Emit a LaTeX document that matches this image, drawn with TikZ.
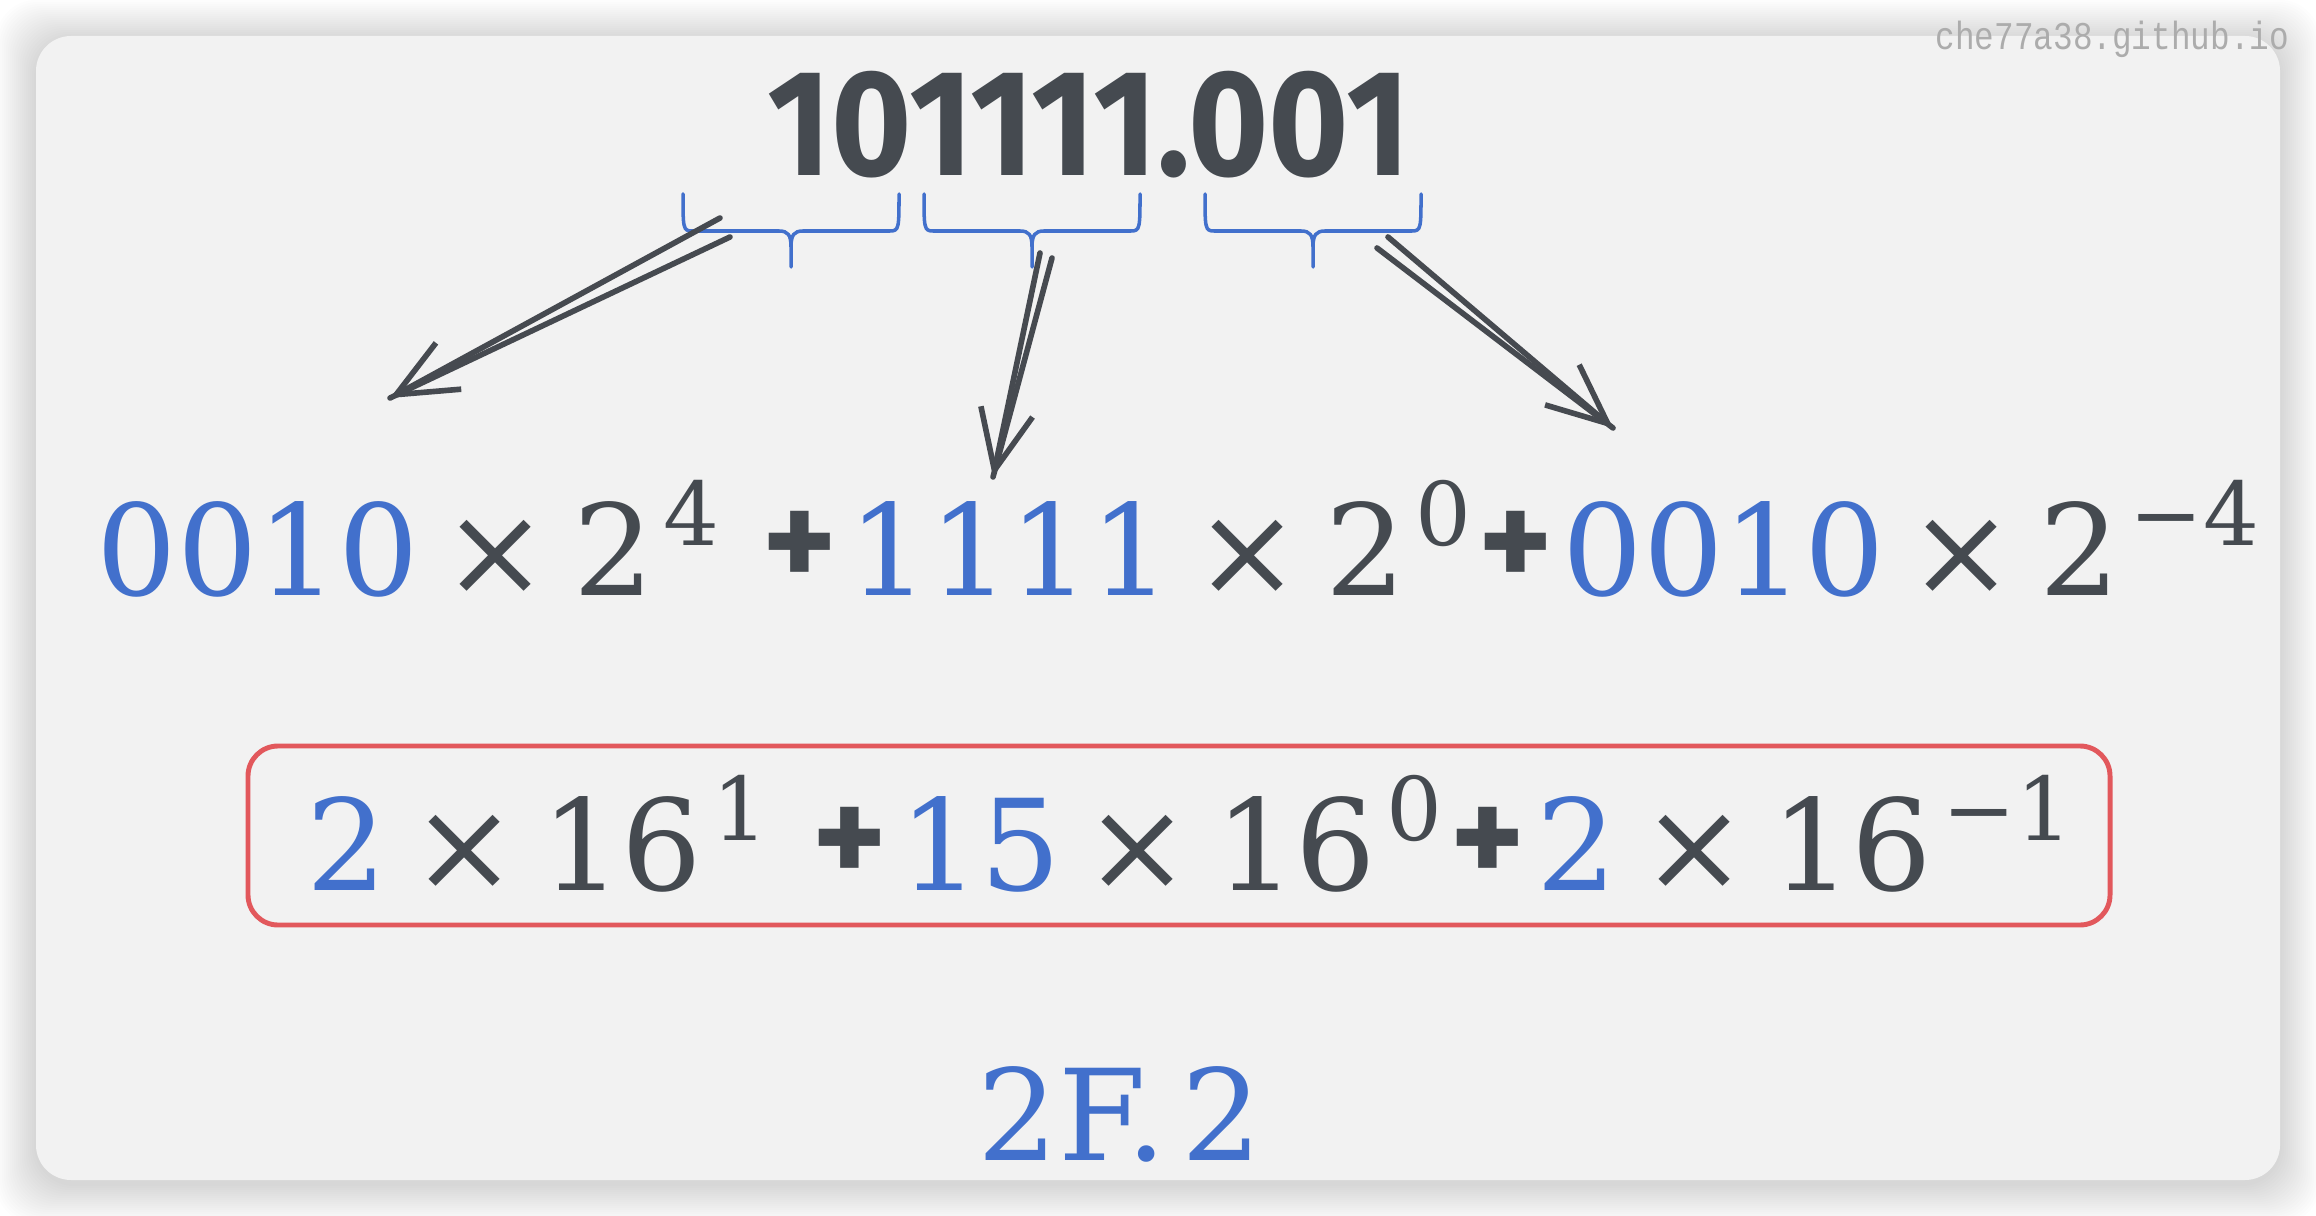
\documentclass[tikz,border=0pt]{standalone}
\usepackage{fontspec}
\usepackage{graphicx}
\usetikzlibrary{arrows.meta, calc}
\newfontfamily\titlefont{Fira Sans}
\newfontfamily\markfont{Liberation Mono}
\newfontfamily\numfont{DejaVu Serif}
\definecolor{cardgray}{RGB}{242, 242, 242}
\definecolor{inkdark}{RGB}{69, 74, 80}
\definecolor{numblue}{RGB}{66, 112, 204}
\definecolor{framered}{RGB}{226, 88, 92}
\definecolor{markgray}{RGB}{172, 172, 172}
\definecolor{penblack}{RGB}{70, 74, 80}
\newcommand{\tms}{\hspace{0.19em}\texttimes\hspace{0.19em}}
\newcommand{\pw}[1]{\hspace{0.08em}\raisebox{14pt}{\fontsize{25}{27}\selectfont #1}}

\begin{document}
\begin{tikzpicture}[
    x=0.01cm, y=-0.01cm,
    title/.style={font=\titlefont\bfseries\fontsize{43}{50}\selectfont, text=inkdark, inner sep=0pt, anchor=base},
    term/.style={font=\numfont\fontsize{36}{44}\selectfont, text=inkdark, inner sep=0pt, anchor=base west},
    plus/.style={font=\titlefont\bfseries\fontsize{40}{48}\selectfont, text=inkdark, inner sep=0pt},
    sitemark/.style={font=\markfont\fontsize{9.3}{11}\selectfont, text=markgray, inner sep=0pt, anchor=base west},
    brace/.style={numblue, line width=1pt, line cap=round},
    pen/.style={penblack, line width=1.6pt, line cap=round},
    penarr/.style={pen, -{Straight Barb[length=17pt, width=15pt]}},
    redframe/.style={framered, line width=1.4pt, rounded corners=0.3cm},
]
\useasboundingbox (0,0) rectangle (2316,1216);
\fill[white] (0,0) rectangle (2316,1216);

% card with soft shadow
\foreach \s in {2,4,...,40}
  \fill[black, opacity=0.007, rounded corners=0.4cm] (36-\s,40-\s) rectangle (2280+\s,1184+\s);
\fill[cardgray, rounded corners=0.35cm] (36,36) rectangle (2280,1180);

\node[sitemark] (site) at (1935,50) {\scalebox{1}[1.2]{che77a38.github.io}};

% binary number
\node[title] (bin) at (1089,176) {\scalebox{0.91}[1]{101111.001}};

% groups of four bits
\foreach \bx in {683,924,1205}
  \draw[brace] (\bx,194) .. controls (\bx,228) and (\bx,231) .. (\bx+9,231) -- (\bx+96,231)
    .. controls (\bx+105,231) and (\bx+108,235) .. (\bx+108,247) -- (\bx+108,267)
    (\bx+108,247) .. controls (\bx+108,235) and (\bx+111,231) .. (\bx+120,231) -- (\bx+207,231)
    .. controls (\bx+216,231) and (\bx+216,228) .. (\bx+216,194);

\coordinate (a1s) at (720,218);
\coordinate (a1t) at (730,237);
\coordinate (a1e) at (390,398);
\coordinate (a2s) at (1040,253);
\coordinate (a2t) at (1052,258);
\coordinate (a2e) at (993,477);
\coordinate (a3s) at (1388,237);
\coordinate (a3t) at (1377,248);
\coordinate (a3e) at (1613,428);

\draw[pen] (a1t) -- (a1e);
\draw[penarr] (a1s) -- (a1e);
\draw[pen] (a2t) -- (a2e);
\draw[penarr] (a2s) -- (a2e);
\draw[pen] (a3t) -- (a3e);
\draw[penarr] (a3s) -- (a3e);

% base 2 expansion
\node[term] (m1) at (96,595) {\textcolor{numblue}{0010}\tms 2\pw{4}};
\node[plus] (p1) at (800,550) {+};
\node[term] (m2) at (848,595) {\textcolor{numblue}{1111}\tms 2\pw{0}};
\node[plus] (p2) at (1516,550) {+};
\node[term] (m3) at (1562,595) {\textcolor{numblue}{0010}\tms 2\pw{\textminus4}};

% base 16 expansion
\draw[redframe] (248,746) rectangle (2110,925);
\node[term] (h1) at (306,890) {\textcolor{numblue}{2}\tms 16\pw{1}};
\node[plus] (p3) at (850,846) {+};
\node[term] (h2) at (899,890) {\textcolor{numblue}{15}\tms 16\pw{0}};
\node[plus] (p4) at (1488,846) {+};
\node[term] (h3) at (1536,890) {\textcolor{numblue}{2}\tms 16\pw{\textminus1}};

\node[term, anchor=base, text=numblue] (hex) at (1120,1160) {2F.\hspace{0.12em}2};

\end{tikzpicture}
\end{document}
